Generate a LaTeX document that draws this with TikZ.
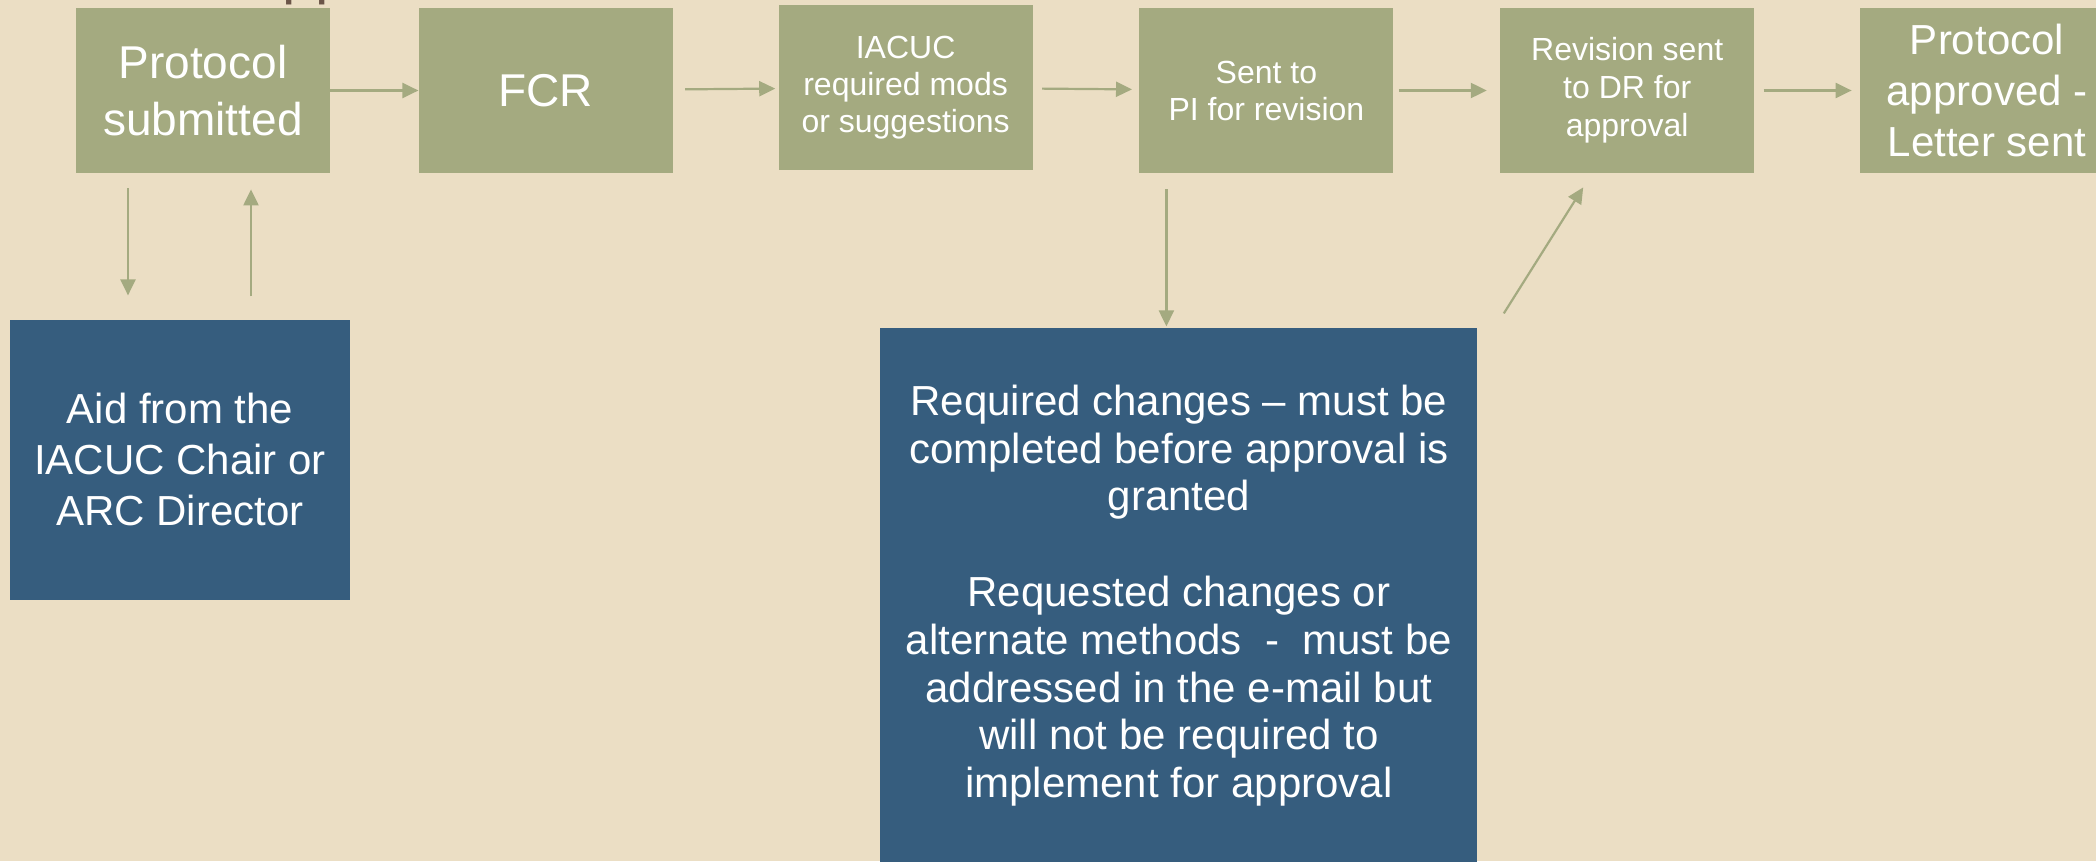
\documentclass[tikz,border=0pt]{standalone}
\usepackage{fontspec}
\setmainfont{Liberation Sans}
\usetikzlibrary{positioning,arrows.meta}

\definecolor{paper}{HTML}{EBDEC4}
\definecolor{sage}{HTML}{A4AA80}
\definecolor{slate}{HTML}{365D7E}
\definecolor{titlebrown}{HTML}{6B5548}

\tikzset{
	stepbox/.style = {fill=sage, text=white, inner sep=0pt, align=center,
		minimum width=127pt, minimum height=82.5pt},
	notebox/.style = {fill=slate, text=white, inner sep=0pt, align=center},
	flow/.style = {draw=sage, line width=1.1pt, -{Triangle[length=8pt, width=7.5pt]}},
}

\begin{document}
\begin{tikzpicture}[x = 0.5pt, y = -0.5pt]
			% page
			\useasboundingbox (0, 0) rectangle (2096, 861);
			\fill[paper] (0, 0) rectangle (2096, 861);
			\clip (0, 0) rectangle (2096, 861);
			% title, cut off by the page edge
			\node[anchor=base west, inner sep=0pt, text=titlebrown, font=\fontsize{30}{36}\selectfont] (title) at (282, -7) {pp};
			% steps
			\node[stepbox, font=\fontsize{23}{28.8}\selectfont] (ps) at (203, 90.5) {Protocol\\submitted};
			\node[stepbox, font=\fontsize{23}{28.8}\selectfont, right=44pt of ps] (fcr) {FCR};
			\node[stepbox, font=\fontsize{16}{18.5}\selectfont, right=52.5pt of fcr, yshift=1.5pt] (iacuc) {IACUC\\required mods\\or suggestions};
			\node[stepbox, font=\fontsize{16}{18.5}\selectfont, right=53pt of iacuc, yshift=-1.5pt] (sent) {Sent to\\PI for revision};
			\node[stepbox, font=\fontsize{16}{19}\selectfont, right=53pt of sent] (rev) {Revision sent\\to DR for\\approval};
			\node[stepbox, font=\fontsize{21}{25.5}\selectfont, right=52.5pt of rev] (appr) {Protocol\\approved -\\Letter sent};
			% notes
			\node[notebox, font=\fontsize{21}{25.5}\selectfont, minimum width=170pt, minimum height=140pt, below=73pt of ps, xshift=-11.5pt] (aid) {Aid from the\\IACUC Chair or\\ARC Director};
			\node[notebox, minimum width=298.5pt, minimum height=280pt, below=77pt of sent, xshift=-43.75pt] (req) {};
			\node[anchor=north, inner sep=0pt, text=white, align=center, font=\fontsize{21}{23.9}\selectfont] (reqtext) at ([yshift=-28.5pt]req.north)
				{Required changes -- must be\\completed before approval is\\granted\\[23.9pt]Requested changes or\\alternate methods~~-~~must be\\addressed in the e-mail but\\will not be required to\\implement for approval};
			% main flow
			\draw[flow] (ps) -- (fcr);
			\draw[flow, shorten <=6pt, shorten >=1.5pt] (fcr) -- (iacuc);
			\draw[flow, shorten <=4.5pt, shorten >=3.5pt] (iacuc) -- (sent);
			\draw[flow, shorten <=2.5pt, shorten >=6.5pt] (sent) -- (rev);
			\draw[flow, shorten <=4.5pt, shorten >=4pt] (rev) -- (appr);
			% help from chair and back
			\draw[flow, shorten <=7.5pt, shorten >=12pt] ([xshift=-37.5pt]ps.south) -- ([xshift=-37.5pt]ps.south |- aid.north);
			\draw[flow, shorten <=11.5pt, shorten >=8pt] ([xshift=24pt]ps.south |- aid.north) -- ([xshift=24pt]ps.south);
			% changes and revision
			\draw[flow, shorten <=8pt, shorten >=0.5pt] ([xshift=-50pt]sent.south) -- ([xshift=-50pt]sent.south |- req.north);
			\draw[flow] ([shift={(13pt,7pt)}]req.north east) -- ([shift={(-22pt,-7pt)}]rev.south);
\end{tikzpicture}
\end{document}
